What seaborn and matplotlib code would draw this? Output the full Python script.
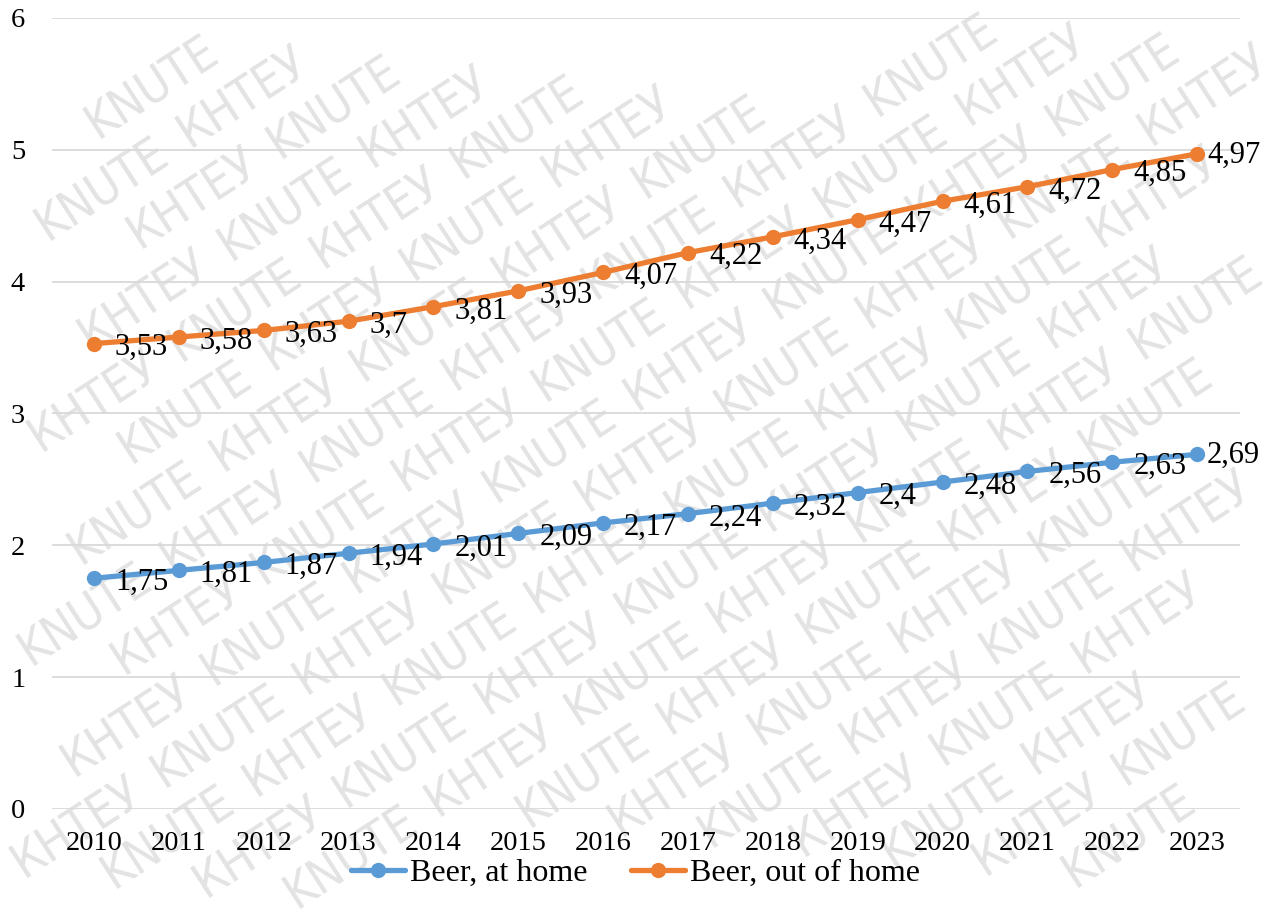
import matplotlib
matplotlib.use("Agg")
import matplotlib.pyplot as plt
import seaborn as sns
import pandas as pd
import numpy as np

years = [2010, 2011, 2012, 2013, 2014, 2015, 2016, 2017, 2018, 2019, 2020, 2021, 2022, 2023]
at_home = [1.75, 1.81, 1.87, 1.94, 2.01, 2.09, 2.17, 2.24, 2.32, 2.40, 2.48, 2.56, 2.63, 2.69]
out_of_home = [3.53, 3.58, 3.63, 3.70, 3.81, 3.93, 4.07, 4.22, 4.34, 4.47, 4.61, 4.72, 4.85, 4.97]
series_names = ["Beer, at home", "Beer, out of home"]
colors = ["#5B9BD5", "#ED7D31"]
y_ticks = [0, 1, 2, 3, 4, 5, 6]
watermark_words = ["КНТЕУ", "KNUTE"]

sns.set_theme(style="white")
plt.rcParams["font.family"] = ["Liberation Serif", "DejaVu Serif"]
plt.rcParams["text.color"] = "black"
plt.rcParams["xtick.color"] = "black"
plt.rcParams["ytick.color"] = "black"

df = pd.DataFrame({
    "idx": list(range(len(years))) * 2,
    "value": at_home + out_of_home,
    "series": [series_names[0]] * len(years) + [series_names[1]] * len(years),
})

W, H = 1281, 922
fig = plt.figure(figsize=(W / 100, H / 100), dpi=100)

# background watermark layer (individual words, kept only when fully inside)
wm = fig.add_axes([0, 0, 1, 1], zorder=0)
wm.set_xlim(0, W)
wm.set_ylim(0, H)
wm.axis("off")
theta = np.deg2rad(33)
u = np.array([np.cos(theta), np.sin(theta)])
n = np.array([-np.sin(theta), np.cos(theta)])
row_gap = 58
step = 168
center = np.array([W / 2, H / 2])
wm_texts = []
for k in range(-16, 17):
    for j in range(-8, 9):
        p = center + k * row_gap * n + (j * step + (k * 97) % (2 * step)) * u
        word = watermark_words[j % 2]
        t = wm.text(p[0], p[1], word, rotation=np.rad2deg(theta), rotation_mode="anchor",
                    ha="center", va="center", fontsize=35, color="#E3E3E3",
                    family="DejaVu Sans", fontstretch="condensed")
        wm_texts.append(t)
fig.canvas.draw()
for t in wm_texts:
    bb = t.get_window_extent()
    if bb.x0 < 1 or bb.y0 < 1 or bb.x1 > W - 1 or bb.y1 > H - 1:
        t.remove()

ax = fig.add_axes([0.0403, 0.1226, 0.9274, 0.8579], zorder=2)
ax.patch.set_alpha(0)

sns.lineplot(data=df, x="idx", y="value", hue="series", palette=colors,
             marker="o", markersize=11, markeredgewidth=0, linewidth=3.8,
             ax=ax, legend=True, zorder=3)

def fmt(v):
    s = f"{v:.2f}".rstrip("0").rstrip(".")
    return s.replace(".", ",")

for vals in (at_home, out_of_home):
    for i, v in enumerate(vals):
        dx = 7 if i == len(vals) - 1 else 15
        dy = -1 if i == len(vals) - 1 else -3
        ax.annotate(fmt(v), xy=(i, v), xytext=(dx, dy), textcoords="offset points",
                    ha="left", va="center", fontsize=22, color="black", zorder=4)

ax.set_xlim(-0.5, len(years) - 0.5)
ax.set_ylim(0, 6)
ax.set_yticks(y_ticks)
ax.set_yticklabels([str(t) for t in y_ticks], fontsize=20.5)
ax.set_xticks(range(len(years)))
ax.set_xticklabels([str(y) for y in years], fontsize=20.5)
ax.tick_params(axis="y", length=0, pad=19)
ax.tick_params(axis="x", length=0, pad=16)
ax.yaxis.grid(True, color="#D9D9D9", linewidth=1.3)
ax.xaxis.grid(False)
for s in ax.spines.values():
    s.set_visible(False)
ax.set_xlabel("")
ax.set_ylabel("")

h, l = ax.get_legend_handles_labels()
ax.legend(h, l, loc="center", bbox_to_anchor=(0.496, 1 - 873 / H), bbox_transform=fig.transFigure,
          ncol=2, frameon=False, fontsize=23, handlelength=1.7, handletextpad=0.15,
          columnspacing=1.35)

fig.savefig("out.png", dpi=100, facecolor="white")
